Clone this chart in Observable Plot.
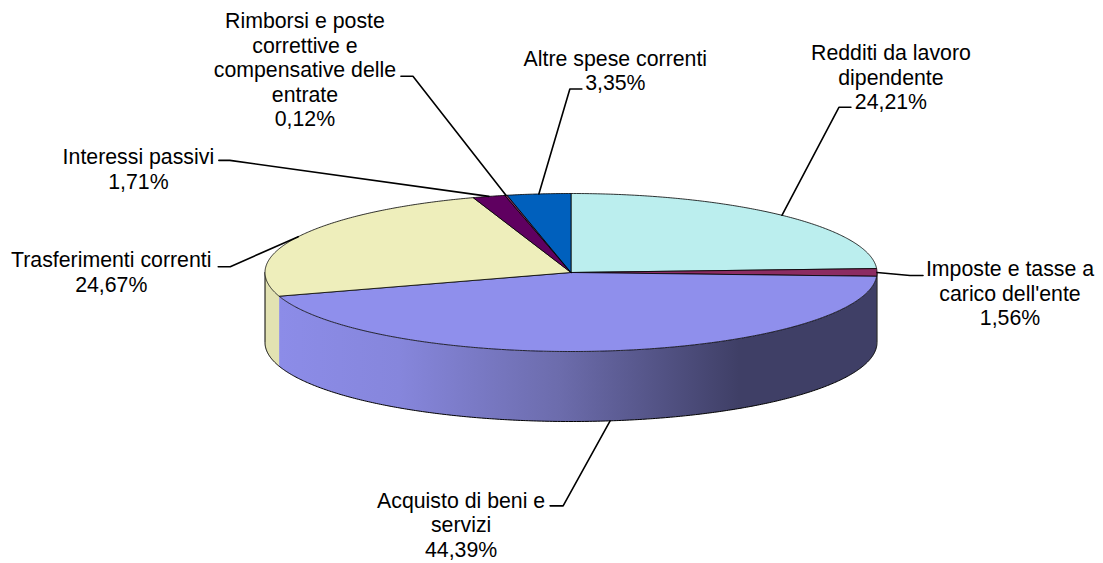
<!DOCTYPE html>
<html>
<head>
<meta charset="utf-8">
<style>html,body{margin:0;padding:0;background:#fff}svg{display:block}</style>
<script src="https://cdn.jsdelivr.net/npm/d3@7"></script>
<script src="https://cdn.jsdelivr.net/npm/@observablehq/plot@0.6"></script>
</head>
<body>
<div id="chart"></div>
<script>
// Data, clockwise from 12 o'clock
const categories = [
  "Redditi da lavoro\ndipendente",
  "Imposte e tasse a\ncarico dell'ente",
  "Acquisto di beni e\nservizi",
  "Trasferimenti correnti",
  "Interessi passivi",
  "Rimborsi e poste\ncorrettive e\ncompensative delle\nentrate",
  "Altre spese correnti"
];
const shares = [24.21, 1.56, 44.39, 24.67, 1.71, 0.12, 3.35];
const shareLabels = ["24,21%", "1,56%", "44,39%", "24,67%", "1,71%", "0,12%", "3,35%"];
const topColors = ["#bbeeee", "#8c2c62", "#8f8fec", "#eeeebb", "#5f0060", "#8c2c62", "#0060bd"];

// Layout: pie geometry and per-label offsets from each slice's anchor (px)
const cx = 570.5, cy = 272, rx = 306, ry = 79, depth = 70;
const elbow = [[57,-108],[33,3],[-47,85],[-68,30],[-259,-36],[-93,-119],[31,-105]];
const stub = [12,13,-13,-12,-11,-12,12];
const labelAt = [[109,-138.5],[133,20.5],[-149,103.5],[-187,35],[-350.5,-27.5],[-201,-126],[76.5,-124]];

const total = d3.sum(shares);
const cum = d3.cumsum(shares);
const startDeg = i => (i === 0 ? 0 : cum[i - 1]) / total * 360;
const endDeg = i => cum[i] / total * 360;
const pt = (deg, dy = 0) => {
  const a = deg * Math.PI / 180;
  return {x: cx + rx * Math.sin(a), y: cy - ry * Math.cos(a) + dy};
};
const arc = (a, b, dy = 0) => {
  const n = Math.max(2, Math.ceil(Math.abs(b - a) * 2));
  return d3.range(n + 1).map(k => pt(a + (b - a) * k / n, dy));
};
const line = (pts, o) => Plot.line(pts, {x: "x", y: "y", curve: "linear", ...o});

const topPolys = shares.map((_, i) => {
  const p = [{x: cx, y: cy}, ...arc(startDeg(i), endDeg(i))];
  return [...p, p[0]];
});
const side = (a, b) => {
  const p = [...arc(a, b), ...arc(b, a, depth)];
  return [...p, p[0]];
};
const anchors = shares.map((_, i) => {
  const m = (startDeg(i) + endDeg(i)) / 2;
  return pt(m, m > 90 && m < 270 ? depth : 0);
});
const leaders = anchors.map((a, i) => {
  const e = {x: a.x + elbow[i][0], y: a.y + elbow[i][1]};
  return [a, e, {x: e.x + stub[i], y: e.y}];
});

const defs = () => {
  const s = d3.create("svg:defs");
  const g = s.append("linearGradient").attr("id", "sideShade").attr("x1", 0).attr("x2", 1).attr("y1", 0).attr("y2", 0);
  [[0, "#8c8ce8"], [0.2, "#8686dc"], [0.47, "#6c6cac"], [0.77, "#3f3f66"], [1, "#3f3f66"]]
    .forEach(([o, c]) => g.append("stop").attr("offset", o).attr("stop-color", c));
  return s.node();
};

const chart = Plot.plot({
  width: 1103, height: 563,
  margin: 0,
  x: {domain: [0, 1103], range: [0, 1103], axis: null},
  y: {domain: [0, 563], range: [0, 563], axis: null},
  style: {background: "#fff"},
  marks: [
    defs,
    // side wall
    line(side(90, endDeg(1)), {fill: "#3f3f66", stroke: "none"}),
    line(side(startDeg(2), endDeg(2)), {fill: "url(#sideShade)", stroke: "none"}),
    line(side(endDeg(2), 270), {fill: "#e2e2b2", stroke: "none"}),
    // wall outline
    line([pt(90), ...arc(90, 270, depth), pt(270)], {stroke: "#000", strokeWidth: 1}),
    // top faces
    ...topPolys.map((p, i) => line(p, {fill: topColors[i], stroke: "#000", strokeWidth: 0.8})),
    // leaders
    ...leaders.map(l => line(l, {stroke: "#000", strokeWidth: 1.6})),
    // labels
    ...anchors.map((a, i) => Plot.text([a], {
      x: "x", y: "y",
      text: () => categories[i] + "\n" + shareLabels[i],
      dx: labelAt[i][0], dy: labelAt[i][1],
      fontFamily: "Liberation Sans", fontSize: 21.3, lineHeight: 1.15,
      fill: "#000", textAnchor: "middle", lineAnchor: "middle"
    }))
  ]
});
document.getElementById("chart").append(chart);
</script>
</body>
</html>
